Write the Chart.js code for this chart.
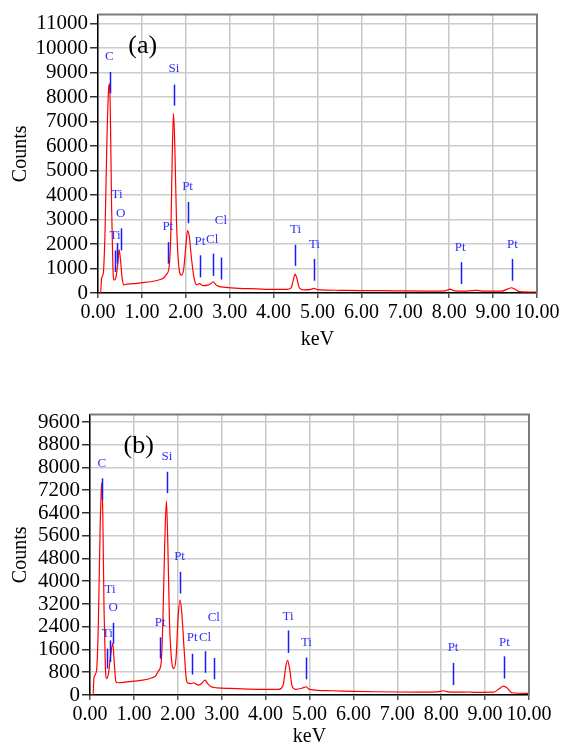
<!DOCTYPE html>
<html>
<head>
<meta charset="utf-8">
<script src="https://cdn.jsdelivr.net/npm/chart.js@4.4.0/dist/chart.umd.min.js"></script>
<style>
html, body { margin: 0; padding: 0; background: #fff; overflow: hidden; }
body { width: 567px; height: 744px; position: relative; }
canvas { position: absolute; left: 0; }
#chartA { top: 0; }
#chartB { top: 400px; }
</style>
</head>
<body>
<canvas id="chartA" width="567" height="352"></canvas>
<canvas id="chartB" width="567" height="352"></canvas>
<script>
// shared x axis
var xTicks = [0, 1, 2, 3, 4, 5, 6, 7, 8, 9, 10];
var xTickLabels = ['0.00', '1.00', '2.00', '3.00', '4.00', '5.00', '6.00', '7.00', '8.00', '9.00', '10.00'];

// spectrum (a)
var keVA = [0.00, 0.06, 0.08, 0.12, 0.16, 0.20, 0.24, 0.26, 0.28, 0.31, 0.34, 0.37, 0.41, 0.45, 0.48, 0.51, 0.55, 0.59,
    0.65, 0.80, 1.00, 1.20, 1.40, 1.50, 1.56, 1.62, 1.66, 1.69, 1.72, 1.75, 1.79, 1.84, 1.90, 1.95, 2.00, 2.04, 2.08,
    2.13, 2.19, 2.25, 2.31, 2.40, 2.50, 2.58, 2.63, 2.68, 2.75, 2.90, 3.20, 3.60, 4.00, 4.30, 4.40, 4.46, 4.49, 4.53,
    4.59, 4.70, 4.85, 4.92, 5.00, 5.50, 6.00, 6.50, 7.00, 7.50, 7.90, 8.02, 8.12, 8.40, 8.63, 8.75, 9.20, 9.33, 9.42,
    9.50, 9.60, 10.00];
var countsA = [0, 0, 600, 800, 2500, 6000, 8300, 8550, 7500, 3500, 1000, 530, 650, 1200, 1770, 1400, 600, 330,
    360, 380, 420, 460, 540, 620, 760, 1070, 2500, 5500, 7340, 6000, 2800, 1100, 730, 950, 1900, 2550, 2300,
    1400, 600, 330, 380, 300, 320, 400, 460, 340, 270, 230, 190, 170, 150, 150, 210, 620, 770, 600,
    200, 130, 150, 190, 140, 110, 100, 95, 85, 80, 90, 160, 90, 80, 110, 80, 80, 160, 215,
    150, 60, 40];
var yTicksA = [0, 1000, 2000, 3000, 4000, 5000, 6000, 7000, 8000, 9000, 10000, 11000];

// element markers (a)
var markTextA = ['C', 'Si', 'Ti', 'O', 'Ti', 'Pt', 'Pt', 'Pt', 'Cl', 'Cl', 'Ti', 'Ti', 'Pt', 'Pt'];
var markTextKeVA = [0.26, 1.73, 0.435, 0.516, 0.39, 1.59, 2.04, 2.32, 2.60, 2.80, 4.50, 4.93, 8.25, 9.44];
var markTextCountsA = [9640, 9160, 4040, 3250, 2350, 2710, 4340, 2120, 2190, 2960, 2590, 1980, 1870, 1980];
var markLineKeVA = [0.273, 1.73, 0.44, 0.516, 0.387, 1.59, 2.04, 2.33, 2.61, 2.81, 4.49, 4.93, 8.26, 9.44];
var markLineLowA = [8150, 7650, 1200, 1740, 860, 1200, 2850, 640, 700, 550, 1110, 500, 365, 500];
var markLineHighA = [9030, 8510, 2040, 2640, 1740, 2080, 3720, 1540, 1610, 1450, 1970, 1390, 1260, 1390];

// spectrum (b)
var keVB = [0.00, 0.07, 0.09, 0.15, 0.19, 0.23, 0.26, 0.27, 0.29, 0.32, 0.35, 0.38, 0.42, 0.47, 0.52, 0.55, 0.59,
    0.65, 0.80, 1.00, 1.20, 1.40, 1.50, 1.56, 1.62, 1.66, 1.70, 1.74, 1.77, 1.81, 1.86, 1.91, 1.96, 2.01, 2.05, 2.09,
    2.14, 2.19, 2.23, 2.30, 2.36, 2.42, 2.48, 2.55, 2.62, 2.68, 2.76, 2.90, 3.20, 3.60, 4.00, 4.30, 4.40, 4.46, 4.50,
    4.55, 4.60, 4.68, 4.85, 4.92, 5.00, 5.50, 6.00, 6.50, 7.00, 7.50, 7.90, 8.05, 8.15, 8.40, 8.62, 8.75, 9.20, 9.32,
    9.42, 9.50, 9.61, 10.00];
var countsB = [0, 0, 600, 870, 2500, 5800, 7300, 7450, 6500, 3000, 1000, 580, 750, 1400, 1820, 1200, 470,
    430, 450, 490, 520, 600, 680, 850, 1120, 2600, 5200, 6830, 5500, 2600, 1200, 930, 1300, 2800, 3340, 2900,
    1700, 600, 420, 400, 430, 380, 350, 420, 520, 400, 290, 250, 230, 210, 200, 200, 350, 1000, 1220,
    900, 330, 200, 250, 290, 200, 150, 130, 115, 105, 100, 110, 150, 110, 100, 105, 95, 100, 220,
    315, 250, 80, 60];
var yTicksB = [0, 800, 1600, 2400, 3200, 4000, 4800, 5600, 6400, 7200, 8000, 8800, 9600];

// element markers (b)
var markTextB = ['C', 'Si', 'Ti', 'O', 'Ti', 'Pt', 'Pt', 'Pt', 'Cl', 'Cl', 'Ti', 'Ti', 'Pt', 'Pt'];
var markTextKeVB = [0.27, 1.75, 0.456, 0.53, 0.395, 1.60, 2.04, 2.33, 2.62, 2.82, 4.51, 4.93, 8.27, 9.44];
var markTextCountsB = [8140, 8380, 3720, 3060, 2170, 2560, 4850, 2010, 2030, 2730, 2760, 1830, 1660, 1860];
var markLineKeVB = [0.28, 1.75, 0.456, 0.53, 0.395, 1.60, 2.05, 2.33, 2.62, 2.82, 4.51, 4.93, 8.27, 9.44];
var markLineLowB = [6860, 7100, 1160, 1800, 930, 1280, 3570, 720, 780, 550, 1480, 550, 350, 580];
var markLineHighB = [7620, 7850, 1920, 2540, 1630, 2030, 4330, 1450, 1540, 1300, 2270, 1320, 1130, 1360];

var serif = "'Liberation Serif', 'Times New Roman', serif";

function points(xs, ys) {
    return xs.map(function (x, i) { return { x: x, y: ys[i] }; });
}

function markerPlugin(m) {
    return {
        id: 'markers',
        afterDatasetsDraw: function (chart) {
            var ctx = chart.ctx, sx = chart.scales.x, sy = chart.scales.y, a = chart.chartArea;
            ctx.save();
            // top / right frame
            ctx.strokeStyle = '#7a7a7a';
            ctx.lineWidth = 2;
            ctx.beginPath();
            ctx.moveTo(a.left, a.top);
            ctx.lineTo(a.right, a.top);
            ctx.lineTo(a.right, a.bottom);
            ctx.stroke();

            ctx.strokeStyle = '#1a1aff';
            ctx.lineWidth = 1.5;
            m.lineKeV.forEach(function (k, i) {
                var px = Math.round(sx.getPixelForValue(k)) + 0.5;
                ctx.beginPath();
                ctx.moveTo(px, sy.getPixelForValue(m.low[i]));
                ctx.lineTo(px, sy.getPixelForValue(m.high[i]));
                ctx.stroke();
            });
            ctx.fillStyle = '#3030ff';
            ctx.font = '13px ' + serif;
            ctx.textAlign = 'center';
            ctx.textBaseline = 'middle';
            m.text.forEach(function (t, i) {
                ctx.fillText(t, sx.getPixelForValue(m.textKeV[i]), sy.getPixelForValue(m.textCounts[i]));
            });
            ctx.fillStyle = '#000';
            ctx.font = '26px ' + serif;
            ctx.fillText(m.panel, sx.getPixelForValue(m.panelKeV), sy.getPixelForValue(m.panelCounts));
            ctx.restore();
        }
    };
}

function makeChart(id, xs, ys, yTicks, yMax, yWidth, xHeight, pad, m) {
    return new Chart(document.getElementById(id), {
        type: 'line',
        data: {
            datasets: [{
                data: points(xs, ys),
                borderColor: '#ff0000',
                borderWidth: 1.2,
                pointRadius: 0,
                cubicInterpolationMode: 'monotone',
                fill: false
            }]
        },
        options: {
            responsive: false,
            animation: false,
            devicePixelRatio: 1,
            layout: { padding: pad },
            plugins: { legend: { display: false }, tooltip: { enabled: false } },
            scales: {
                x: {
                    type: 'linear',
                    min: 0,
                    max: 10,
                    afterBuildTicks: function (s) { s.ticks = xTicks.map(function (v) { return { value: v }; }); },
                    afterFit: function (s) { s.height = xHeight; },
                    ticks: {
                        autoSkip: false,
                        maxRotation: 0,
                        padding: 3,
                        color: '#000',
                        font: { family: serif, size: 20 },
                        callback: function (v, i) { return xTickLabels[i]; }
                    },
                    grid: { color: '#c8c8c8', lineWidth: 1.5, tickColor: '#555', tickLength: 5 },
                    border: { color: '#000', width: 1.5 },
                    title: {
                        display: true,
                        text: 'keV',
                        color: '#000',
                        font: { family: serif, size: 20 },
                        padding: { top: 0, bottom: 0 }
                    }
                },
                y: {
                    min: 0,
                    max: yMax,
                    afterBuildTicks: function (s) { s.ticks = yTicks.map(function (v) { return { value: v }; }); },
                    afterFit: function (s) { s.width = yWidth; },
                    ticks: {
                        autoSkip: false,
                        padding: 2,
                        color: '#000',
                        font: { family: serif, size: 21 },
                        callback: function (v) { return String(v); }
                    },
                    grid: { color: '#cccccc', lineWidth: 1.5, tickColor: '#333', tickLength: 8 },
                    border: { color: '#000', width: 1.5 },
                    title: {
                        display: true,
                        text: 'Counts',
                        color: '#000',
                        font: { family: serif, size: 20 },
                        padding: { top: 9, bottom: 0 }
                    }
                }
            }
        },
        plugins: [markerPlugin(m)]
    });
}

makeChart('chartA', keVA, countsA, yTicksA, 11370, 98, 59, { top: 12, right: 30, bottom: 0, left: 0 }, {
    text: markTextA, textKeV: markTextKeVA, textCounts: markTextCountsA,
    lineKeV: markLineKeVA, low: markLineLowA, high: markLineHighA,
    panel: '(a)', panelKeV: 1.02, panelCounts: 10080
});

makeChart('chartB', keVB, countsB, yTicksB, 9860, 90, 54, { top: 13, right: 38, bottom: 3, left: 0 }, {
    text: markTextB, textKeV: markTextKeVB, textCounts: markTextCountsB,
    lineKeV: markLineKeVB, low: markLineLowB, high: markLineHighB,
    panel: '(b)', panelKeV: 1.11, panelCounts: 8760
});
</script>
</body>
</html>
